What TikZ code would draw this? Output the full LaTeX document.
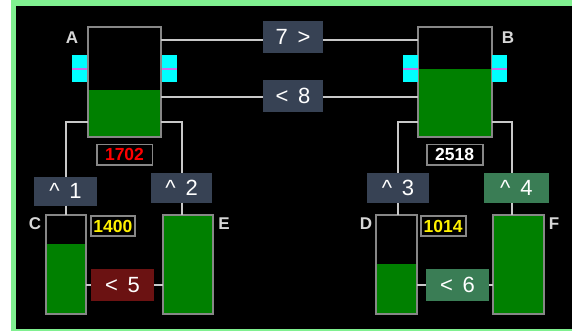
\documentclass[tikz,border=0pt]{standalone}
\usepackage{fontspec}
\setmainfont{Liberation Sans}[WordSpace=1.6]
\definecolor{frameg}{RGB}{128,240,144}
\definecolor{tankg}{RGB}{0,128,0}
\definecolor{slate}{RGB}{55,66,84}
\definecolor{darkred}{RGB}{107,18,18}
\definecolor{boxg}{RGB}{58,125,85}
\definecolor{pipec}{RGB}{200,200,200}
\definecolor{rimc}{RGB}{135,135,135}
\definecolor{lblc}{RGB}{215,215,215}
\definecolor{cyanc}{RGB}{0,255,255}
\definecolor{violc}{RGB}{200,110,230}
\begin{document}
\begin{tikzpicture}[x=1pt,y=-1pt,
  tank/.style={draw=rimc,line width=2pt,inner sep=0pt,outer sep=0pt},
  lvl/.style={path picture={\fill[tankg] (path picture bounding box.south west) rectangle ([yshift=#1]path picture bounding box.south east);}},
  ctrl/.style={fill=#1,text=white,inner sep=0pt,outer sep=0pt,font=\fontsize{22}{22}\selectfont},
  disp/.style={draw=rimc,fill=black,line width=1.6pt,inner sep=0pt,outer sep=0pt,font=\bfseries\fontsize{17.5}{17.5}\selectfont},
  lbl/.style={text=lblc,font=\bfseries\fontsize{17}{17}\selectfont,inner sep=0pt},
  pipe/.style={draw=pipec,line width=2pt}
]
% frame
\fill[white] (0,0) rectangle (572,331);
\fill[frameg] (11,0) rectangle (572,331);
\fill[black] (16,6) rectangle (572,329);

% tanks
\node[tank,lvl=47pt,minimum width=73pt,minimum height=109.4pt] (A) at (124.5,82) {};
\node[tank,lvl=67.7pt,minimum width=74pt,minimum height=109.4pt] (B) at (454.7,82) {};
\node[tank,lvl=69.4pt,minimum width=40.3pt,minimum height=98.7pt] (C) at (66,264.35) {};
\node[tank,lvl=98.7pt,minimum width=50.6pt,minimum height=98.7pt] (E) at (188,264.35) {};
\node[tank,lvl=49.7pt,minimum width=40.7pt,minimum height=98.7pt] (D) at (396.35,264.35) {};
\node[tank,lvl=98.7pt,minimum width=50.7pt,minimum height=98.7pt] (F) at (518.65,264.35) {};

% valves
\fill[cyanc] (72.3,55) rectangle (87.3,81.7);
\fill[cyanc] (161.7,55) rectangle (176.7,81.7);
\fill[cyanc] (402.7,55) rectangle (418.3,81.7);
\fill[cyanc] (492.3,55) rectangle (507.3,81.7);
\fill[violc] (72.3,68.3) rectangle (87.3,70.5);
\fill[violc] (161.7,68.3) rectangle (176.7,70.5);
\fill[violc] (402.7,68.3) rectangle (418.3,70.5);
\fill[violc] (492.3,68.3) rectangle (507.3,70.5);

% control boxes
\node[ctrl=slate,minimum width=60pt,minimum height=32pt] (b7) at (293,37) {7 >};
\node[ctrl=slate,minimum width=60pt,minimum height=31.7pt] (b8) at (293,95.85) {< 8};
\node[ctrl=slate,minimum width=63.4pt,minimum height=29pt] (u1) at (65.5,191.2) {\^{} 1};
\node[ctrl=slate,minimum width=61.3pt,minimum height=29.4pt] (u2) at (181.65,188) {\^{} 2};
\node[ctrl=slate,minimum width=61.4pt,minimum height=30pt] (u3) at (398,188.3) {\^{} 3};
\node[ctrl=boxg,minimum width=64.7pt,minimum height=30pt] (u4) at (516.35,188.3) {\^{} 4};
\node[ctrl=darkred,minimum width=63pt,minimum height=31.7pt] (b5) at (122.5,285.15) {< 5};
\node[ctrl=boxg,minimum width=63pt,minimum height=31.7pt] (b6) at (457.5,285.15) {< 6};

% displays
\node[disp,text=red,minimum width=55.6pt,minimum height=20.3pt] (dA) at (124.5,154.85) {1702};
\node[disp,text=white,minimum width=56pt,minimum height=20.3pt] (dB) at (454.7,154.85) {2518};
\node[disp,text=yellow,minimum width=44.3pt,minimum height=20pt] (dC) at (112.85,226) {1400};
\node[disp,text=yellow,minimum width=45pt,minimum height=20pt] (dD) at (443.2,226) {1014};

% labels
\node[lbl] (lA) at (72,37.5) {A};
\node[lbl] (lB) at (508,37.5) {B};
\node[lbl] (lC) at (35,224) {C};
\node[lbl] (lE) at (224,224) {E};
\node[lbl] (lD) at (366,224) {D};
\node[lbl] (lF) at (554,224) {F};

% pipes between A and B
\coordinate (a7) at ([yshift=-13pt]A.north east);
\coordinate (a8) at ([yshift=-70pt]A.north east);
\draw[pipe] (a7) -- (a7 -| b7.west);
\draw[pipe] (b7.east |- a7) -- (a7 -| B.west);
\draw[pipe] (a8) -- (a8 -| b8.west);
\draw[pipe] (b8.east |- a8) -- (a8 -| B.west);

% pipes down from A
\coordinate (pa1) at ([yshift=15pt]A.south west);
\coordinate (pa2) at ([yshift=15pt]A.south east);
\draw[pipe] (pa1) -| (u1.north);
\draw[pipe] (u1.south) -- (u1.south |- C.north);
\draw[pipe] (pa2) -| (u2.north);
\draw[pipe] (u2.south) -- (u2.south |- E.north);

% pipes down from B
\coordinate (pb1) at ([yshift=15pt]B.south west);
\coordinate (pb2) at ([yshift=15pt]B.south east);
\coordinate (f4n) at ([xshift=-4.6pt]u4.north);
\coordinate (f4s) at ([xshift=-4.6pt]u4.south);
\draw[pipe] (pb1) -| (u3.north);
\draw[pipe] (u3.south) -- (u3.south |- D.north);
\draw[pipe] (pb2) -| (f4n);
\draw[pipe] (f4s) -- (f4s |- F.north);

% bottom connections
\draw[pipe] (C.east |- b5.west) -- (b5.west);
\draw[pipe] (b5.east) -- (b5.east -| E.west);
\draw[pipe] (D.east |- b6.west) -- (b6.west);
\draw[pipe] (b6.east) -- (b6.east -| F.west);
\end{tikzpicture}
\end{document}
